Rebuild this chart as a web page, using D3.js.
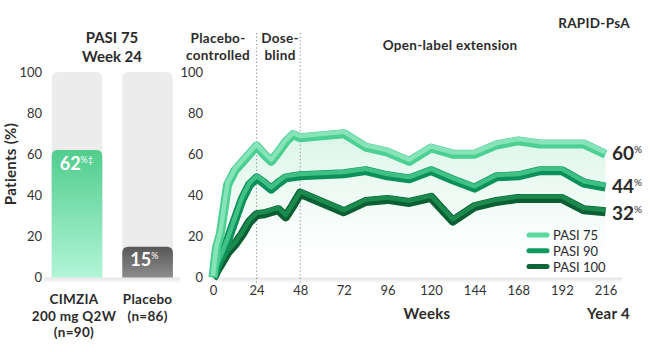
<!DOCTYPE html>
<html>
<head>
<meta charset="utf-8">
<script src="https://cdn.jsdelivr.net/npm/d3@7"></script>
<style>
  body { margin: 0; background: #fff; }
  svg { font-family: Lato, "Open Sans", sans-serif; }
</style>
</head>
<body>
<div id="chart"></div>
<script>
// left panel: PASI 75 at week 24
var groups = ["CIMZIA", "Placebo"];
var groupValues = [62, 15];
var groupLabels = [["CIMZIA", "200 mg Q2W", "(n=90)"], ["Placebo", "(n=86)"]];

// right panel: long term response (weeks)
var weeks = [0, 1, 2, 4, 8, 12, 16, 20, 24, 28, 32, 36, 40, 44, 48, 72, 84, 96, 108, 120, 132, 144, 156, 168, 180, 192, 204, 216];
var pasi75 = [0, 8, 15, 21, 45, 52, 56, 60, 64, 60, 56.5, 61, 66, 69.5, 68, 70, 63.5, 61, 56.5, 63, 60, 60, 64.5, 66.5, 65, 65, 65, 60];
var pasi90 = [0, 2, 5, 9, 18, 28, 38, 45, 48.5, 46, 43, 46, 48.5, 49, 49.5, 50.5, 52, 49.5, 48, 52, 47.5, 43.5, 49, 49.5, 52, 52, 46, 44];
var pasi100 = [0, 1, 3, 6, 12, 16, 21, 27, 30.5, 31, 32, 33, 29.5, 35, 41, 32, 37, 38, 36.5, 39, 27.5, 34.5, 37, 38.5, 38.5, 38.5, 33, 32];
var seriesNames = ["PASI 75", "PASI 90", "PASI 100"];
var endLabels = ["60", "44", "32"];
var yTicks = [0, 20, 40, 60, 80, 100];
var xTicks = [0, 24, 48, 72, 96, 120, 144, 168, 192, 216];
var phaseLines = [24, 48];

var width = 650, height = 352;

var svg = d3.select("#chart").append("svg")
  .attr("width", width)
  .attr("height", height);

var defs = svg.append("defs");

function vGrad(id, stops) {
  var g = defs.append("linearGradient").attr("id", id)
    .attr("x1", 0).attr("y1", 0).attr("x2", 0).attr("y2", 1);
  stops.forEach(function(s) {
    g.append("stop").attr("offset", s[0]).attr("stop-color", s[1]).attr("stop-opacity", s[2] == null ? 1 : s[2]);
  });
}
vGrad("gCimzia", [[0, "#50cd8d"], [1, "#b2f5d8"]]);
vGrad("gPlacebo", [[0, "#575757"], [1, "#8d8d8d"]]);
vGrad("gArea", [[0, "#d4f4e4", 0.85], [0.6, "#eefaf4", 0.6], [1, "#ffffff", 0]]);
vGrad("gFloor", [[0, "#e4e4e4"], [1, "#ffffff"]]);

var y = d3.scaleLinear().domain([0, 100]).range([277.5, 72]);

// ---------- left panel ----------
var xb = d3.scaleBand().domain(groups).range([41.6, 183]).paddingInner(0.283).paddingOuter(0.143);

svg.append("rect")
  .attr("x", 44).attr("y", y(0)).attr("width", 136).attr("height", 6)
  .attr("fill", "url(#gFloor)");

function topRounded(x, yTop, w, yBot, r) {
  return "M" + x + "," + yBot +
    "V" + (yTop + r) + "Q" + x + "," + yTop + " " + (x + r) + "," + yTop +
    "H" + (x + w - r) + "Q" + (x + w) + "," + yTop + " " + (x + w) + "," + (yTop + r) +
    "V" + yBot + "Z";
}

var bar = svg.selectAll("g.bar")
  .data(groups)
  .enter()
  .append("g")
  .attr("class", "bar");

bar.append("path")
  .attr("d", function(d) { return topRounded(xb(d), y(100), xb.bandwidth(), y(0), 7); })
  .attr("fill", "#ececec");

bar.append("path")
  .attr("d", function(d, i) { return topRounded(xb(d), y(groupValues[i]), xb.bandwidth(), y(0), 6); })
  .attr("fill", function(d, i) { return i == 0 ? "url(#gCimzia)" : "url(#gPlacebo)"; });

var valText = bar.append("text")
  .attr("x", function(d) { return xb(d) + 8; })
  .attr("y", function(d, i) { return y(groupValues[i]) + 19.5; })
  .attr("fill", "#fff")
  .attr("font-size", 18)
  .attr("font-weight", 700);
valText.append("tspan").text(function(d, i) { return groupValues[i]; });
valText.append("tspan")
  .attr("font-size", 9).attr("font-weight", 400).attr("dy", -7)
  .text(function(d, i) { return i == 0 ? "%\u2021" : "%"; });

// category labels
bar.each(function(d, i) {
  var t = d3.select(this).append("text")
    .attr("text-anchor", "middle")
    .attr("font-size", 13.5)
    .attr("font-weight", 700)
    .attr("letter-spacing", 0.3)
    .attr("fill", "#2b2b2b");
  groupLabels[i].forEach(function(line, j) {
    t.append("tspan")
      .attr("x", xb(d) + xb.bandwidth() / 2 - (i == 0 ? 3 : 0))
      .attr("y", 304 + j * 16.5)
      .text(line);
  });
});

svg.append("g")
  .attr("transform", "translate(42,0)")
  .call(d3.axisLeft(y).tickValues(yTicks).tickSize(0).tickPadding(0))
  .call(function(g) { g.select(".domain").remove(); })
  .selectAll("text")
  .attr("font-family", "Lato, sans-serif")
  .attr("font-size", 13)
  .attr("fill", "#333");

svg.append("text")
  .attr("transform", "translate(16,164) rotate(-90)")
  .attr("text-anchor", "middle")
  .attr("font-size", 15)
  .attr("font-weight", 700)
  .attr("letter-spacing", 0.3)
  .attr("fill", "#2b2b2b")
  .text("Patients (%)");

svg.append("text").attr("x", 112).attr("y", 43).attr("text-anchor", "middle")
  .attr("font-size", 15).attr("font-weight", 700).attr("fill", "#2b2b2b").text("PASI 75");
svg.append("text").attr("x", 112).attr("y", 62).attr("text-anchor", "middle")
  .attr("font-size", 15).attr("font-weight", 700).attr("fill", "#2b2b2b").text("Week 24");

// ---------- right panel ----------
var x = d3.scaleLinear().domain([0, 216]).range([213, 605.5]);

svg.append("rect")
  .attr("x", 212).attr("y", y(0)).attr("width", 410).attr("height", 6)
  .attr("fill", "url(#gFloor)");

var area = d3.area()
  .x(function(d, i) { return x(weeks[i]); })
  .y0(y(0))
  .y1(function(d) { return y(d); });

svg.append("path")
  .datum(pasi75)
  .attr("d", area)
  .attr("fill", "url(#gArea)");

// phase separators
svg.selectAll("line.phase")
  .data(phaseLines)
  .enter()
  .append("line")
  .attr("class", "phase")
  .attr("x1", function(d) { return x(d); })
  .attr("x2", function(d) { return x(d); })
  .attr("y1", 33)
  .attr("y2", 283)
  .attr("stroke", "#8a8a8a")
  .attr("stroke-width", 1)
  .attr("stroke-dasharray", "1.2,2.4");

var line = d3.line()
  .x(function(d, i) { return x(weeks[i]); })
  .y(function(d) { return y(d); });

var series = [pasi75, pasi90, pasi100];
var baseCol = ["#4ccf92", "#0c9059", "#0b5f33"];
var hiCol = ["#86e4b8", "#3fc186", "#1a8a4e"];
var legendCol = ["#5ad8a0", "#0f9a60", "#0e6537"];

// draw darkest first so the lighter ribbons sit above
[2, 1, 0].forEach(function(k) {
  svg.append("path")
    .datum(series[k])
    .attr("d", line)
    .attr("fill", "none")
    .attr("stroke", baseCol[k])
    .attr("stroke-width", 9)
    .attr("stroke-linejoin", "round");
  svg.append("path")
    .datum(series[k])
    .attr("d", line)
    .attr("transform", "translate(0,-1.8)")
    .attr("fill", "none")
    .attr("stroke", hiCol[k])
    .attr("stroke-width", 4.5)
    .attr("stroke-linejoin", "round");
});

// end values
var endY = [160, 193, 220];
series.forEach(function(s, k) {
  var t = svg.append("text")
    .attr("x", 612)
    .attr("y", endY[k])
    .attr("font-size", 19)
    .attr("font-weight", 700)
    .attr("fill", "#2b2b2b");
  t.append("tspan").text(endLabels[k]);
  t.append("tspan").attr("font-size", 10).attr("font-weight", 400).attr("dy", -7).text("%");
});

// legend
var legend = svg.selectAll("g.legend")
  .data(seriesNames)
  .enter()
  .append("g")
  .attr("class", "legend")
  .attr("transform", function(d, i) { return "translate(529," + (235 + i * 15.8) + ")"; });

legend.append("line")
  .attr("x1", 0).attr("x2", 18)
  .attr("stroke", function(d, i) { return legendCol[i]; })
  .attr("stroke-width", 5)
  .attr("stroke-linecap", "round");

legend.append("text")
  .attr("x", 24)
  .attr("y", 5)
  .attr("font-size", 13)
  .attr("fill", "#2b2b2b")
  .text(function(d) { return d; });

svg.append("g")
  .attr("transform", "translate(0,286)")
  .call(d3.axisBottom(x).tickValues(xTicks).tickSize(0).tickPadding(0))
  .call(function(g) { g.select(".domain").remove(); })
  .selectAll("text")
  .attr("font-family", "Lato, sans-serif")
  .attr("font-size", 13)
  .attr("fill", "#333");

svg.append("g")
  .attr("transform", "translate(203,0)")
  .call(d3.axisLeft(y).tickValues(yTicks).tickSize(0).tickPadding(0))
  .call(function(g) { g.select(".domain").remove(); })
  .selectAll("text")
  .attr("font-family", "Lato, sans-serif")
  .attr("font-size", 13)
  .attr("fill", "#333");

function label(txt, xx, yy, anchor, size) {
  svg.append("text")
    .attr("x", xx).attr("y", yy)
    .attr("text-anchor", anchor)
    .attr("font-size", size)
    .attr("font-weight", 700)
    .attr("letter-spacing", 0.3)
    .attr("fill", "#2b2b2b")
    .text(txt);
}
label("Placebo-", 218, 43, "middle", 13.5);
label("controlled", 218, 59.5, "middle", 13.5);
label("Dose-", 280, 43, "middle", 13.5);
label("blind", 280, 59.5, "middle", 13.5);
label("Open-label extension", 450, 50, "middle", 13.5);
label("RAPID-PsA", 630, 28, "end", 13.5);
label("Weeks", 427, 319, "middle", 15);
label("Year 4", 630, 319, "end", 15);
</script>
</body>
</html>
